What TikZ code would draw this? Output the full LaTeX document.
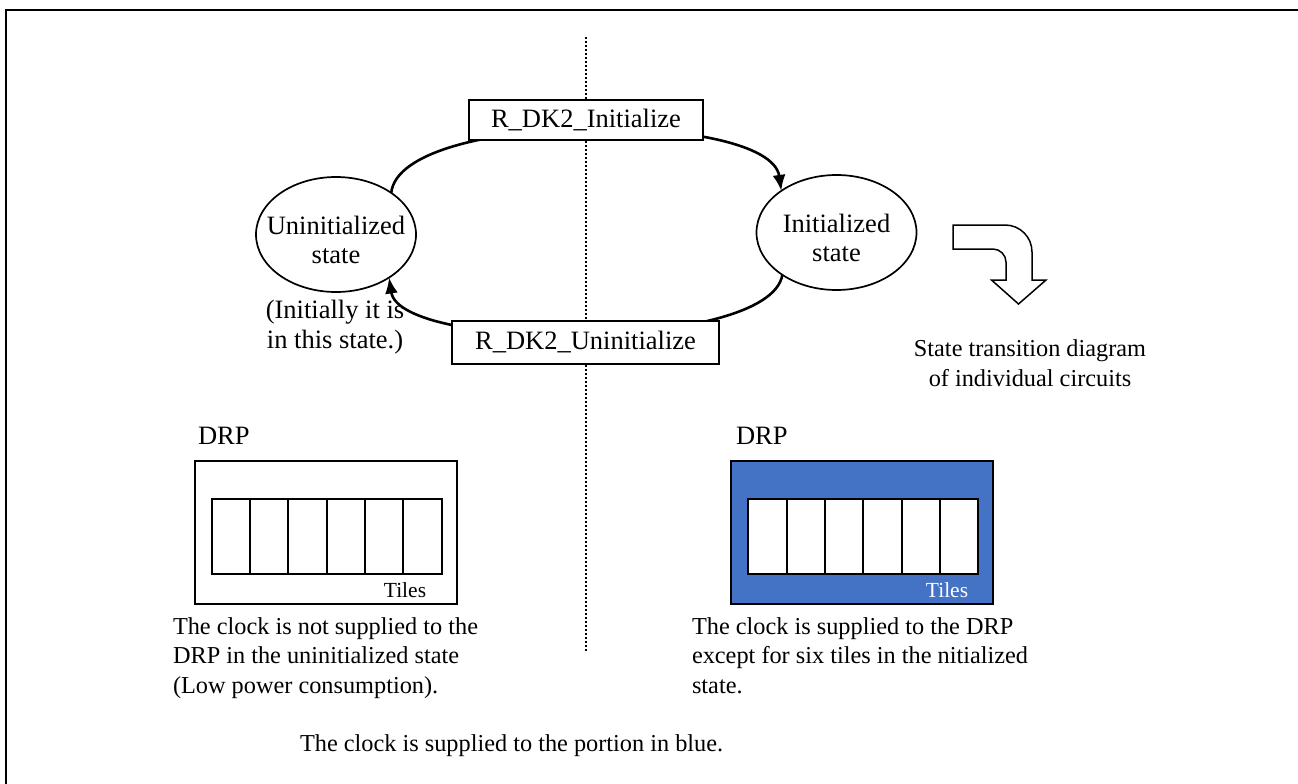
\documentclass[tikz,border=0pt]{standalone}
\usepackage{fontspec}
\setmainfont{Liberation Serif}
\usetikzlibrary{arrows.meta,shapes.geometric}
\definecolor{drpblue}{HTML}{4472C4}
\begin{document}
\begin{tikzpicture}[x=1pt,y=1pt,
  every node/.style={font=\fontsize{26.5}{29.5}\selectfont, inner sep=0pt, outer sep=0pt},
  capfont/.style={font=\fontsize{24.3}{29.5}\selectfont},
  state/.style={ellipse, draw, line width=1.7pt, minimum width=160pt, minimum height=115pt},
  actbox/.style={draw, line width=1.7pt, fill=white},
  trans/.style={line width=2.6pt, -{Latex[length=16pt,width=13pt]}},
  frameline/.style={line width=2pt},
  dotline/.style={line width=1.6pt, dash pattern=on 1.6pt off 2.4pt},
  drpbox/.style={draw, line width=1.8pt},
  tile/.style={draw, line width=2pt, fill=white},
  tiletext/.style={font=\fontsize{21.5}{24}\selectfont},
  txt/.style={align=left, anchor=base west},
  ctxt/.style={align=center},
  bentarrow/.style={draw, line width=1.5pt, fill=white, line join=miter}
]
\useasboundingbox (0,0) rectangle (1298,-784);
% frame (only top and left edges are in view)
\draw[frameline] (6,-790) -- (6,-10) -- (1305,-10);
% divider
\draw[dotline] (586,-37) -- (586,-652);
% states
\node[state] (u) at (336,-234.5) {};
\node[ctxt] (ut) at (336,-240) {Uninitialized\\state};
\node[state] (i) at (836.5,-232.5) {};
\node[ctxt] (it) at (836.5,-238) {Initialized\\state};
% transitions
\draw[trans] (u.37) .. controls (400,-110) and (770,-110) .. (i.143);
\draw[trans] (i.218) .. controls (770,-352) and (400,-352) .. (u.321);
\node[actbox, minimum width=234pt, minimum height=40pt] (init) at (586,-120) {R\_DK2\_Initialize};
\node[actbox, minimum width=267pt, minimum height=43pt] (uninit) at (585.5,-342.5) {R\_DK2\_Uninitialize};
% notes
\node[ctxt] (note) at (335,-327) {(Initially it is\\in this state.)};
\draw[bentarrow] (953,-225) -- (1005,-225) .. controls (1020,-225) and (1032,-237) .. (1032,-252)
  -- (1032,-280) -- (1046,-280) -- (1018.5,-304) -- (991.5,-280) -- (1006,-280) -- (1006,-262)
  .. controls (1006,-255) and (1000,-249) .. (993,-249) -- (953,-249) -- cycle;
\node[ctxt, capfont] (std) at (1030,-363) {State transition diagram\\of individual circuits};
% left DRP
\node[txt] (drpl) at (198,-444) {DRP};
\draw[drpbox] (195,-461) rectangle (456.7,-604);
\foreach \k in {0,...,5}{
  \draw[tile] ({211.7+38.33*\k},-499) rectangle ({211.7+38.33*(\k+1)},-574);
}
\node[tiletext] (tl) at (405,-590) {Tiles};
% right DRP
\node[txt] (drpr) at (736,-444) {DRP};
\draw[drpbox, fill=drpblue] (731,-461) rectangle (993.3,-604);
\foreach \k in {0,...,5}{
  \draw[tile] ({748.3+38.33*\k},-499) rectangle ({748.3+38.33*(\k+1)},-574);
}
\node[tiletext, text=white] (tr) at (947,-590) {Tiles};
% captions (base anchor = last line)
\node[txt, capfont] (capl) at (173,-693) {The clock is not supplied to the\\DRP in the uninitialized state\\(Low power consumption).};
\node[txt, capfont] (capr) at (692,-693) {The clock is supplied to the DRP\\except for six tiles in the nitialized\\state.};
\node[txt, capfont] (capb) at (300,-751) {The clock is supplied to the portion in blue.};
\end{tikzpicture}
\end{document}
